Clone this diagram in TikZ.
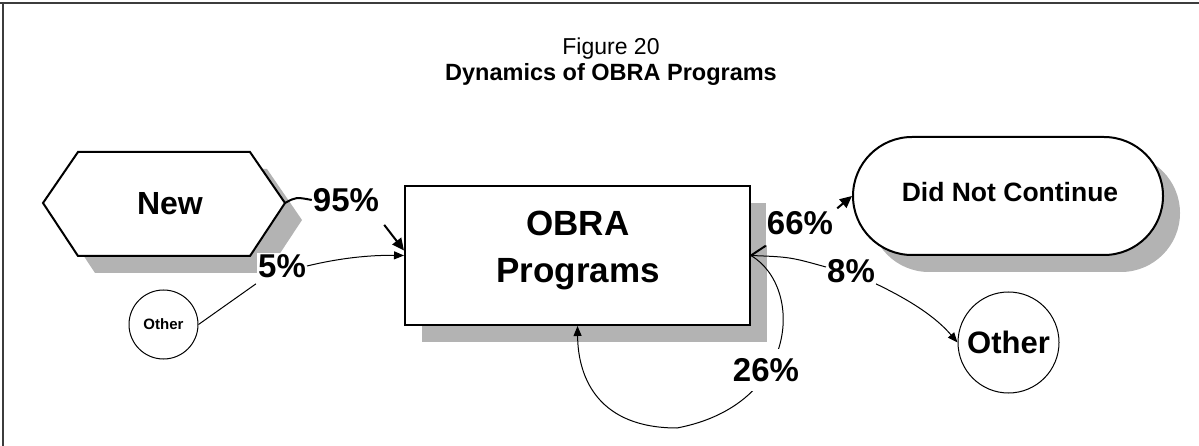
\documentclass[tikz,border=0pt]{standalone}
\usepackage{fontspec}
\setmainfont{Liberation Sans}
\usetikzlibrary{arrows.meta,shadows}
\definecolor{shadowgray}{RGB}{179,179,179}
\definecolor{framegray}{RGB}{60,60,60}
\tikzset{
  myshadow/.style={drop shadow={shadow xshift=17pt, shadow yshift=-17pt, fill=shadowgray, opacity=1, draw=none}},
  boxshape/.style={draw=black, line width=2pt, fill=white, myshadow},
  circshape/.style={circle, draw=black, line width=1pt, fill=white, inner sep=0pt},
  pct/.style={font=\fontsize{33}{36}\selectfont\bfseries, fill=white, inner sep=1pt},
  thickline/.style={line width=2pt},
  thinline/.style={line width=1pt},
  thickarrow/.style={line width=2pt, -{Triangle[length=12pt,width=11pt]}},
  thinarrow/.style={line width=1pt, -{Triangle[length=10pt,width=8pt]}},
}
\begin{document}
\begin{tikzpicture}[x=1pt,y=-1pt]
\useasboundingbox (0,0) rectangle (1199,446);
% frame
\draw[framegray, line width=2pt] (0,3) -- (1199,3);
\draw[framegray, line width=1.5pt] (3,3) -- (3,446);
% title
\node[anchor=base, font=\fontsize{23}{26}\selectfont] (fig) at (611,55) {Figure 20};
\node[anchor=base, font=\bfseries\fontsize{23.5}{26}\selectfont] (dyn) at (611,81) {Dynamics of OBRA Programs};
% hexagon New
\fill[shadowgray, shift={(17,17)}] (43,203) -- (78,152) -- (250,152) -- (285,203) -- (250,256) -- (78,256) -- cycle;
\draw[line width=2pt, fill=white] (43,203) -- (78,152) -- (250,152) -- (285,203) -- (250,256) -- (78,256) -- cycle;
\coordinate (newE) at (285,203);
\node[font=\fontsize{32}{36}\selectfont\bfseries] (new) at (170,204) {New};
% OBRA box
\node[boxshape, minimum width=345pt, minimum height=139pt, inner sep=0pt] (obra) at (577.5,255.5) {};
\node[font=\fontsize{35}{47}\selectfont\bfseries, align=center] (obratext) at (578,250) {OBRA\\Programs};
% Did Not Continue
\node[boxshape, rounded corners=59pt, minimum width=310pt, minimum height=118pt, inner sep=0pt] (dnc) at (1008,196) {};
\node[font=\fontsize{26.5}{30}\selectfont\bfseries] (dnctext) at (1010,192) {Did Not Continue};
% circles
\node[circshape, minimum size=101pt, font=\fontsize{31}{34}\selectfont\bfseries] (other2) at (1008.5,342.5) {Other};
\node[circshape, minimum size=69pt, font=\fontsize{15}{18}\selectfont\bfseries] (other1) at (163.5,324.5) {Other};
% connector curves (drawn before labels)
\draw[thinarrow] (obra.east) .. controls (805,288) and (798,405) .. (677,428) .. controls (600,428) and (578,380) .. (obra.south);
% labels
\node[pct] (p95) at (346,200) {95\%};
\node[pct] (p5) at (282,266) {5\%};
\node[pct, minimum height=45pt] (p66) at (800,223) {66\%};
\node[pct] (p8) at (851,271) {8\%};
\node[pct, minimum height=42pt] (p26) at (766,370) {26\%};
% 95%
\draw[thickline] (newE) .. controls (296,197) .. (p95.west);
\draw[thickarrow] ([shift={(4,12)}]p95.south east) -- ([shift={(0,-5)}]obra.west);
% 5%
\draw[thinline] (other1.east) -- ([shift={(-1,5)}]p5.south west);
\draw[thinarrow] (p5.east) .. controls (340,258) and (370,255) .. (obra.west);
% 66%
\draw[thickline] (obra.east) -- (p66.south west);
\draw[thickarrow] ([shift={(3,8)}]p66.north east) -- (dnc.west);
% 8%
\draw[thinline] (obra.east) .. controls (790,257) .. ([shift={(0,-4)}]p8.west);
\draw[thinarrow] (p8.south east) .. controls (920,305) and (940,322) .. (other2.west);
\end{tikzpicture}
\end{document}
